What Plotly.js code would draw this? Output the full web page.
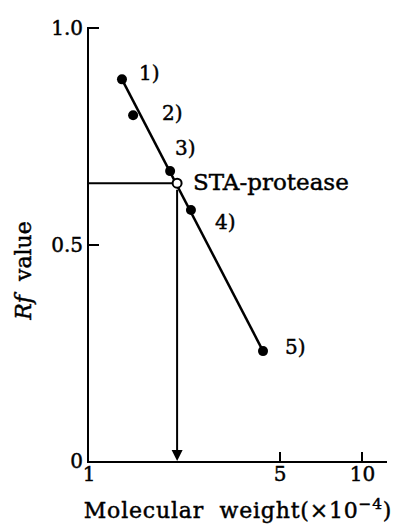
<!DOCTYPE html>
<html>
<head>
<meta charset="utf-8">
<script src="https://cdn.plot.ly/plotly-3.0.1.min.js"></script>
<style>
html,body{margin:0;padding:0;background:#fff;}
#chart{width:399px;height:531px;}
#chart text{stroke:#000;stroke-width:0.45px;}
#chart .xtitle{letter-spacing:0.8px;}
</style>
</head>
<body>
<div id="chart"></div>
<script>
// Standard proteins: molecular weight (x10^-4) and Rf value
const labels = ['1)', '2)', '3)', '4)', '5)'];
const mw = [1.32, 1.45, 1.98, 2.36, 4.33];
const rf = [0.882, 0.799, 0.670, 0.580, 0.254];

// Regression line end points (as drawn)
const fitMW = [1.32, 4.33];
const fitRf = [0.882, 0.254];

// STA-protease
const staName = 'STA-protease';
const staMW = 2.10;
const staRf = 0.642;

// Axes
const xTickVals = [1, 5, 10];
const xTickText = ['1', '5', '10'];
const yTickVals = [0, 0.5, 1.0];
const yTickText = ['0', '0.5', '1.0'];
const xMin = 1, xMax = 12.3;
const yMin = 0, yMax = 1.003;

const FONT = 'DejaVu Serif, Liberation Serif, serif';
const lg = Math.log10;

const traces = [
  {x: fitMW, y: fitRf, mode: 'lines', line: {color: '#000', width: 2.5}, hoverinfo: 'skip'},
  {x: [xMin, staMW], y: [staRf, staRf], mode: 'lines', line: {color: '#000', width: 2}, hoverinfo: 'skip'},
  {x: mw, y: rf, mode: 'markers', marker: {color: '#000', size: 10, symbol: 'circle'}},
  {x: [staMW], y: [staRf], mode: 'markers', marker: {color: '#fff', size: 9, symbol: 'circle', line: {color: '#000', width: 2}}}
];

// label offsets (pixels) for each point label
const lblShift = [[15, 6], [27, 2], [3, 23], [22, -12], [20, 4]];

const annotations = labels.map((t, i) => ({
  x: lg(mw[i]), y: rf[i], xref: 'x', yref: 'y', text: t, showarrow: false,
  xanchor: 'left', yanchor: 'middle', xshift: lblShift[i][0], yshift: lblShift[i][1],
  font: {family: FONT, size: 20, color: '#000'}
}));
annotations.push({
  x: lg(staMW), y: staRf, xref: 'x', yref: 'y', text: staName, showarrow: false,
  xanchor: 'left', yanchor: 'middle', xshift: 14, yshift: 1,
  font: {family: FONT, size: 23, color: '#000'}
});
// arrow from STA-protease down to the x axis
annotations.push({
  x: lg(staMW), y: yMin, xref: 'x', yref: 'y',
  ax: lg(staMW), ay: staRf, axref: 'x', ayref: 'y',
  text: '', showarrow: true, arrowhead: 2, arrowsize: 1.1, arrowwidth: 2,
  arrowcolor: '#000', startstandoff: 5, standoff: 0
});
// y axis title
annotations.push({
  x: -0.221, y: 0.4365, xref: 'paper', yref: 'paper', text: '<i>Rf</i>  value',
  showarrow: false, textangle: -90, xanchor: 'center', yanchor: 'middle',
  font: {family: FONT, size: 22, color: '#000'}
});

const layout = {
  width: 399, height: 531,
  margin: {l: 89, r: 12, t: 27, b: 70},
  paper_bgcolor: '#fff', plot_bgcolor: '#fff',
  showlegend: false,
  font: {family: FONT, size: 20, color: '#000'},
  xaxis: {
    type: 'log', range: [lg(xMin), lg(xMax)],
    tickvals: xTickVals, ticktext: xTickText,
    ticks: 'inside', ticklen: 9, tickwidth: 2, tickcolor: '#000',
    ticklabelstandoff: -6,
    showline: true, linewidth: 2, linecolor: '#000',
    showgrid: false, zeroline: false,
    tickfont: {family: FONT, size: 20, color: '#000'},
    title: {text: 'Molecular  weight(×10<sup>−4</sup>)', font: {family: FONT, size: 22, color: '#000'}, standoff: 18}
  },
  yaxis: {
    range: [yMin, yMax],
    tickvals: yTickVals, ticktext: yTickText,
    ticks: 'inside', ticklen: 10, tickwidth: 2, tickcolor: '#000',
    showline: true, linewidth: 2, linecolor: '#000',
    showgrid: false, zeroline: false,
    tickfont: {family: FONT, size: 20, color: '#000'}
  },
  annotations: annotations
};

Plotly.newPlot('chart', traces, layout, {displayModeBar: false});
</script>
</body>
</html>
